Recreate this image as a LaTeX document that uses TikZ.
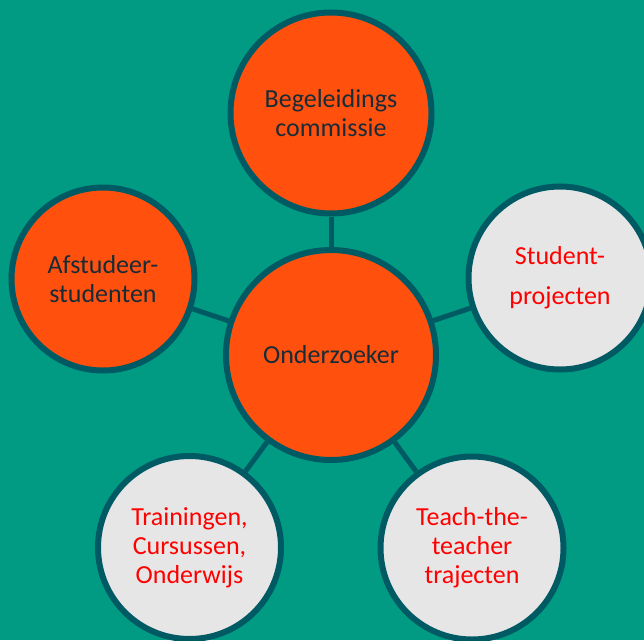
\documentclass[tikz,border=0pt]{standalone}
\usepackage{fontspec}
\setmainfont{Carlito}
\usetikzlibrary{positioning}
\definecolor{bgteal}{RGB}{0,155,130}
\definecolor{ringteal}{RGB}{0,90,100}
\definecolor{hotorange}{RGB}{255,80,14}
\definecolor{lightgrey}{RGB}{231,230,230}
\definecolor{darktext}{RGB}{24,44,56}
\tikzstyle{actor} = [circle, draw=ringteal, line width=6pt, align=center, inner sep=0pt, font=\fontsize{26}{29}\selectfont]
\tikzstyle{core} = [actor, fill=hotorange, text=darktext]
\tikzstyle{other} = [actor, fill=lightgrey, text=red]
\tikzstyle{link} = [draw=ringteal, line width=5pt]

\begin{document}
\begin{tikzpicture}[x=1pt, y=-1pt]
   \fill[bgteal] (0,0) rectangle (644,640);
   \useasboundingbox (0,0) rectangle (644,640);
   \node (Onderzoeker) at (331, 355) [core, minimum size=210pt] {Onderzoeker};

   \node (Begeleiding) at (331, 113) [core, minimum size=201pt] {Begeleidings\\commissie} edge[link] (Onderzoeker);
   \node (Afstudeer) at (103, 279) [core, minimum size=183pt] {Afstudeer-\\studenten} edge[link] (Onderzoeker);

   \node (StudentProj) at (560, 278) [other, minimum size=183pt] {Student-\\[11pt]projecten} edge[link] (Onderzoeker);
   \node (Trainingen) at (189.5, 547.5) [other, minimum size=183pt] {Trainingen,\\Cursussen,\\Onderwijs} edge[link] (Onderzoeker);
   \node (TeachTeacher) at (472, 548) [other, minimum size=183pt] {Teach-the-\\teacher\\trajecten} edge[link] (Onderzoeker);

\end{tikzpicture}
\end{document}
